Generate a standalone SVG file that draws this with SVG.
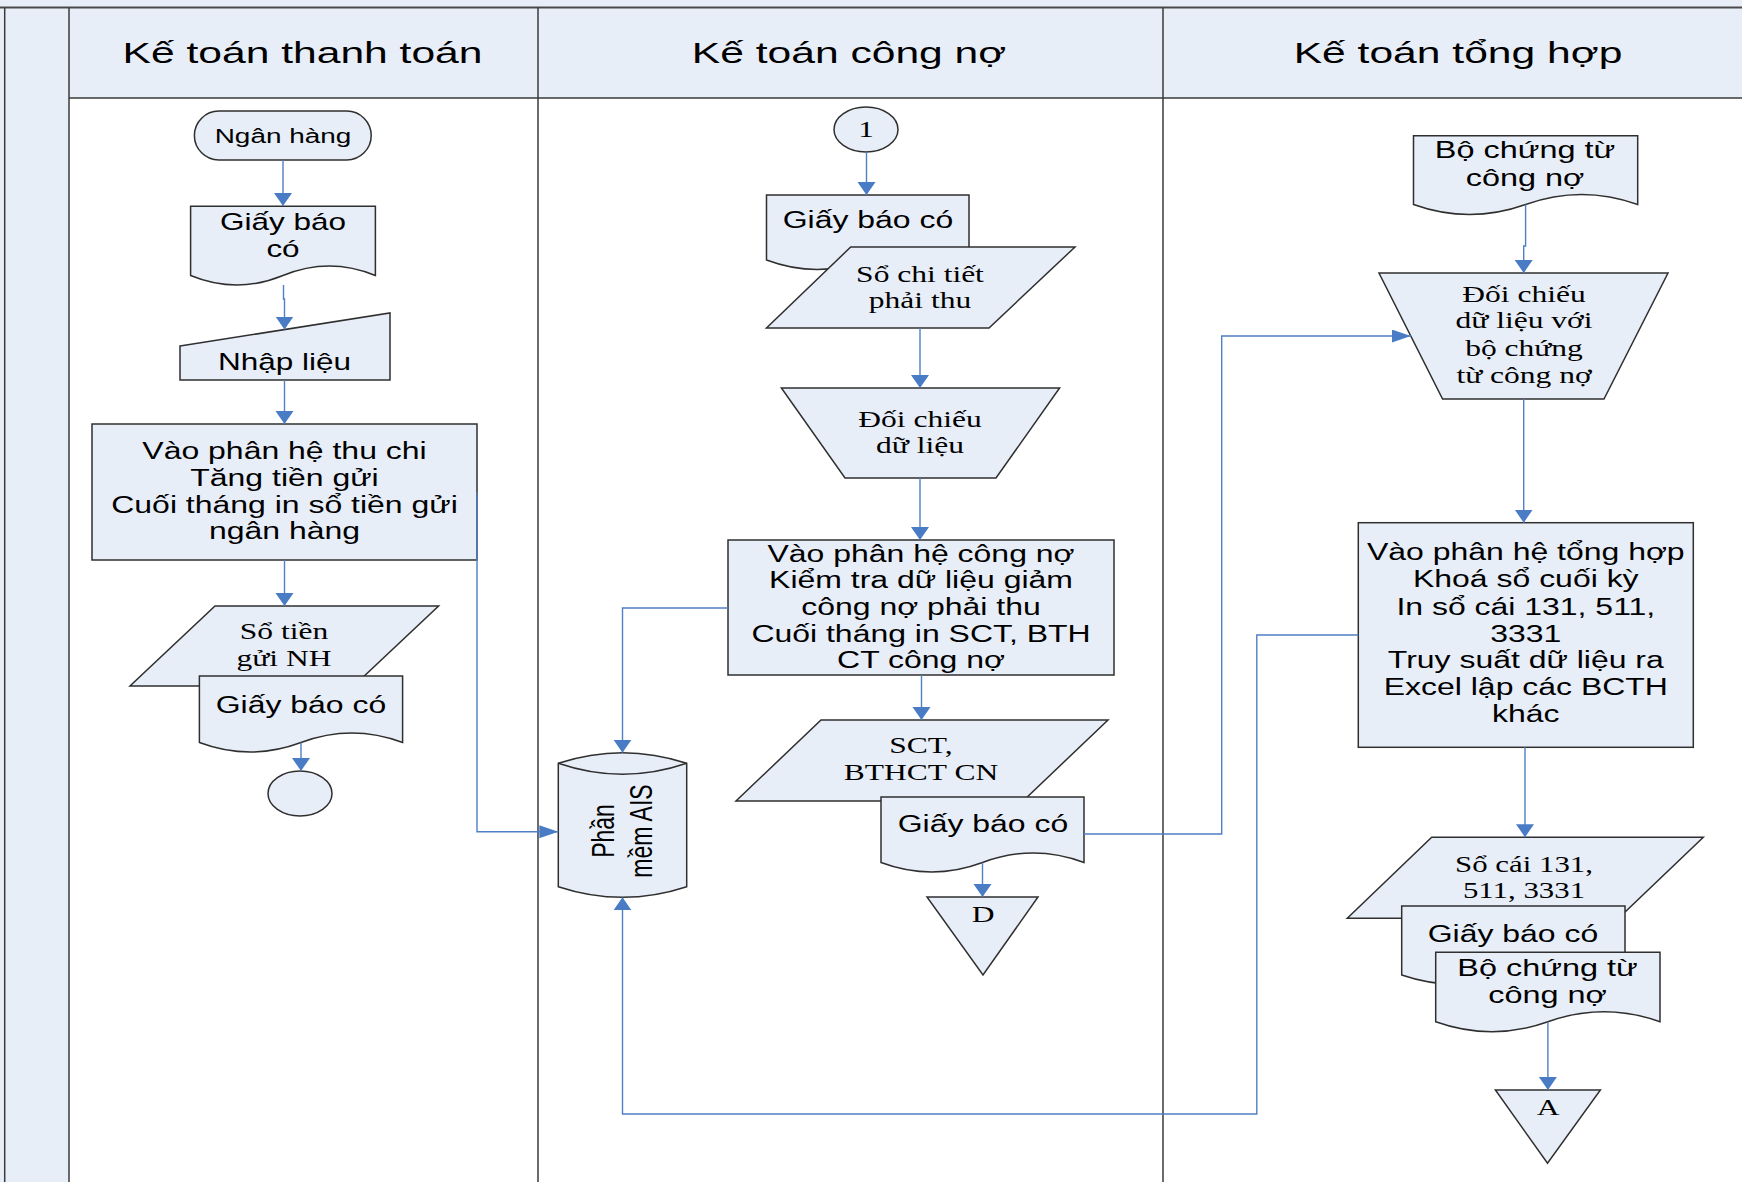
<svg xmlns="http://www.w3.org/2000/svg" width="1742" height="1182" viewBox="0 0 1742 1182">
  <style>
    .bg { fill: #E8EEF8; }
    .frame { fill: none; stroke: #3a3a3a; stroke-width: 1.5; }
    .shape { fill: #E8EEF8; stroke: #2f2f2f; stroke-width: 1.5; stroke-linejoin: miter; }
    .conn { fill: none; stroke: #4F7FC4; stroke-width: 1.4; }
    .t { font-family: "Liberation Sans", Arial, sans-serif; font-size: 23.5px; text-anchor: middle; fill: #000; }
    .s { font-family: "Liberation Serif", "Times New Roman", serif; font-size: 23px; text-anchor: middle; fill: #000; }
    .h { font-size: 30px; }
  </style>
  <defs>
    <!-- arrowheads: the drawing is stretched sideways, so vertical and horizontal heads differ -->
    <marker id="av" markerUnits="userSpaceOnUse" markerWidth="14" markerHeight="19" refX="13" refY="9" orient="auto">
      <path d="M0,0 L13,9 L0,18 Z" fill="#4A7CC6"/>
    </marker>
    <marker id="ah" markerUnits="userSpaceOnUse" markerWidth="20" markerHeight="14" refX="19" refY="6.5" orient="auto">
      <path d="M0,0 L19,6.5 L0,13 Z" fill="#4A7CC6"/>
    </marker>
  </defs>

  <!-- swimlane frame -->
  <g id="lanes">
    <rect x="0" y="0" width="1742" height="1182" fill="#ffffff"/>
    <rect class="bg" x="0" y="0" width="1742" height="98"/>
    <rect class="bg" x="0" y="0" width="69" height="1182"/>
    <line x1="0" y1="7.5" x2="1742" y2="7.5" stroke="#4a4a4a" stroke-width="2.2"/>
    <line class="frame" x1="4.7" y1="7.5" x2="4.7" y2="1182"/>
    <line class="frame" x1="69" y1="7.5" x2="69" y2="1182"/>
    <line class="frame" x1="538" y1="7.5" x2="538" y2="1182"/>
    <line class="frame" x1="1163" y1="7.5" x2="1163" y2="1182"/>
    <line class="frame" x1="69" y1="98" x2="1742" y2="98"/>
    <text class="t h" transform="matrix(1.42 0 0 1 302.5 0)" x="0" y="63">Kế toán thanh toán</text>
    <text class="t h" transform="matrix(1.42 0 0 1 849 0)" x="0" y="63">Kế toán công nợ</text>
    <text class="t h" transform="matrix(1.42 0 0 1 1458 0)" x="0" y="63">Kế toán tổng hợp</text>
  </g>

  <!-- lane 1: Kế toán thanh toán -->
  <g id="ngan-hang">
    <rect class="shape" x="194.4" y="111" width="176.8" height="49" rx="24.5" ry="24.5"/>
    <text class="t" style="font-size:21px" transform="matrix(1.33 0 0 1 283 0)" x="0" y="142.7">Ngân hàng</text>
  </g>
  <g id="giay-bao-co-1">
    <path class="shape" d="M190.6,206.3 H375.4 V275.5 Q329.2,256.5 283,275.5 Q236.8,294.5 190.6,275.5 Z"/>
    <text class="t" transform="matrix(1.34 0 0 1 283 0)"><tspan x="0" y="230">Giấy báo</tspan><tspan x="0" y="257">có</tspan></text>
  </g>
  <g id="nhap-lieu">
    <path class="shape" d="M180,346 L390,313 V380 H180 Z"/>
    <text class="t" transform="matrix(1.34 0 0 1 284.5 0)" x="0" y="370">Nhập liệu</text>
  </g>
  <g id="phan-he-thu-chi">
    <rect class="shape" x="92" y="424" width="385" height="136"/>
    <text class="t" transform="matrix(1.36 0 0 1 284.5 0)"><tspan x="0" y="459">Vào phân hệ thu chi</tspan><tspan x="0" y="486">Tăng tiền gửi</tspan><tspan x="0" y="513">Cuối tháng in sổ tiền gửi</tspan><tspan x="0" y="539">ngân hàng</tspan></text>
  </g>
  <g id="so-tien-gui">
    <path class="shape" d="M215,606 H438.6 L353.6,686 H130 Z"/>
    <text class="s" transform="matrix(1.37 0 0 1 284 0)"><tspan x="0" y="639">Sổ tiền</tspan><tspan x="0" y="666">gửi NH</tspan></text>
  </g>
  <g id="giay-bao-co-2">
    <path class="shape" d="M199.4,676 H402.6 V742.5 Q351.8,723.5 301,742.5 Q250.2,761.5 199.4,742.5 Z"/>
    <text class="t" transform="matrix(1.36 0 0 1 301 0)" x="0" y="713">Giấy báo có</text>
  </g>
  <g id="ket-thuc-1">
    <ellipse class="shape" cx="300" cy="793.5" rx="32" ry="22.5"/>
  </g>

  <!-- lane 2: Kế toán công nợ -->
  <g id="noi-1">
    <ellipse class="shape" cx="866" cy="129.5" rx="32" ry="22.5"/>
    <text class="s" style="font-size:24px" transform="matrix(1.3 0 0 1 866 0)" x="0" y="137">1</text>
  </g>
  <g id="giay-bao-co-3">
    <path class="shape" d="M766.5,195 H969 V260 Q918.4,241 867.8,260 Q817.1,279 766.5,260 Z"/>
    <text class="t" transform="matrix(1.36 0 0 1 868 0)" x="0" y="228">Giấy báo có</text>
  </g>
  <g id="so-chi-tiet">
    <path class="shape" d="M850.7,247 H1075 L989,328 H766.5 Z"/>
    <text class="s" transform="matrix(1.37 0 0 1 920 0)"><tspan x="0" y="282">Sổ chi tiết</tspan><tspan x="0" y="308">phải thu</tspan></text>
  </g>
  <g id="doi-chieu-1">
    <path class="shape" d="M781.4,388 H1059.6 L996,478 H845 Z"/>
    <text class="s" transform="matrix(1.37 0 0 1 920 0)"><tspan x="0" y="427">Đối chiếu</tspan><tspan x="0" y="453">dữ liệu</tspan></text>
  </g>
  <g id="phan-he-cong-no">
    <rect class="shape" x="728" y="540" width="386" height="135"/>
    <text class="t" transform="matrix(1.36 0 0 1 921 0)"><tspan x="0" y="562">Vào phân hệ công nợ</tspan><tspan x="0" y="588">Kiểm tra dữ liệu giảm</tspan><tspan x="0" y="615">công nợ phải thu</tspan><tspan x="0" y="642">Cuối tháng in SCT, BTH</tspan><tspan x="0" y="668">CT công nợ</tspan></text>
  </g>
  <g id="phan-mem-ais">
    <path class="shape" d="M558.3,763.3 Q622.5,742.1 686.7,763.3 V886.7 Q622.5,907.9 558.3,886.7 Z"/>
    <path class="shape" style="fill:none" d="M558.3,763.3 Q622.5,785.3 686.7,763.3"/>
    <text class="t" style="font-size:23px" transform="matrix(0 -1 1.36 0 622.5 831)"><tspan x="0" y="-6.1">Phần</tspan><tspan x="0" y="21.8">mềm AIS</tspan></text>
  </g>
  <g id="so-sct-bthct">
    <path class="shape" d="M821,720 H1108 L1023,801 H736 Z"/>
    <text class="s" transform="matrix(1.37 0 0 1 921 0)"><tspan x="0" y="753">SCT,</tspan><tspan x="0" y="780">BTHCT CN</tspan></text>
  </g>
  <g id="giay-bao-co-4">
    <path class="shape" d="M881,797 H1084 V862.5 Q1033.3,843.5 982.5,862.5 Q931.8,881.5 881,862.5 Z"/>
    <text class="t" transform="matrix(1.36 0 0 1 983 0)" x="0" y="832">Giấy báo có</text>
  </g>
  <g id="luu-tru-d">
    <path class="shape" d="M927,897 H1038 L983,975 Z"/>
    <text class="s" transform="matrix(1.37 0 0 1 983 0)" x="0" y="922">D</text>
  </g>

  <!-- lane 3: Kế toán tổng hợp -->
  <g id="bo-chung-tu-1">
    <path class="shape" d="M1413.5,135.7 H1637.7 V204.5 Q1581.7,184.5 1525.6,204.5 Q1469.5,224.5 1413.5,204.5 Z"/>
    <text class="t" transform="matrix(1.38 0 0 1 1525 0)"><tspan x="0" y="158">Bộ chứng từ</tspan><tspan x="0" y="186">công nợ</tspan></text>
  </g>
  <g id="doi-chieu-2">
    <path class="shape" d="M1379,273 H1668 L1604,399 H1442.6 Z"/>
    <text class="s" transform="matrix(1.37 0 0 1 1524 0)"><tspan x="0" y="302">Đối chiếu</tspan><tspan x="0" y="328">dữ liệu với</tspan><tspan x="0" y="356">bộ chứng</tspan><tspan x="0" y="383">từ công nợ</tspan></text>
  </g>
  <g id="phan-he-tong-hop">
    <rect class="shape" x="1358.3" y="522.7" width="335" height="224.6"/>
    <text class="t" transform="matrix(1.36 0 0 1 1525.8 0)"><tspan x="0" y="560">Vào phân hệ tổng hợp</tspan><tspan x="0" y="587.3">Khoá sổ cuối kỳ</tspan><tspan x="0" y="615">In sổ cái 131, 511,</tspan><tspan x="0" y="641.7">3331</tspan><tspan x="0" y="668.3">Truy suất dữ liệu ra</tspan><tspan x="0" y="695">Excel lập các BCTH</tspan><tspan x="0" y="722.3">khác</tspan></text>
  </g>
  <g id="so-cai">
    <path class="shape" d="M1431.7,837.3 H1703.3 L1618.5,918.3 H1347.3 Z"/>
    <text class="s" transform="matrix(1.34 0 0 1 1524 0)"><tspan x="0" y="871.7">Sổ cái 131,</tspan><tspan x="0" y="898.3">511, 3331</tspan></text>
  </g>
  <g id="giay-bao-co-5">
    <path class="shape" d="M1401.7,906 H1625 V975 Q1569.2,956 1513.4,975 Q1457.5,994 1401.7,975 Z"/>
    <text class="t" transform="matrix(1.36 0 0 1 1513 0)" x="0" y="941.7">Giấy báo có</text>
  </g>
  <g id="bo-chung-tu-2">
    <path class="shape" d="M1435.7,952.3 H1660 V1021.7 Q1603.9,1001.7 1547.9,1021.7 Q1491.8,1041.7 1435.7,1021.7 Z"/>
    <text class="t" transform="matrix(1.38 0 0 1 1547.5 0)"><tspan x="0" y="975.7">Bộ chứng từ</tspan><tspan x="0" y="1003.3">công nợ</tspan></text>
  </g>
  <g id="luu-tru-a">
    <path class="shape" d="M1495.4,1090 H1600.4 L1547.5,1163.3 Z"/>
    <text class="s" transform="matrix(1.37 0 0 1 1548 0)" x="0" y="1115.5">A</text>
  </g>

  <!-- connectors -->
  <g id="connectors" class="conn">
    <path d="M283,160 V206" marker-end="url(#av)"/>
    <path d="M283.5,285 V299 H284.5 V329.6" marker-end="url(#av)"/>
    <path d="M284.5,380 V424" marker-end="url(#av)"/>
    <path d="M284.5,560 V606" marker-end="url(#av)"/>
    <path d="M301,742.5 V771" marker-end="url(#av)"/>
    <path d="M477,492 V831.7 H558.3" marker-end="url(#ah)"/>
    <path d="M866.5,152 V195" marker-end="url(#av)"/>
    <path d="M920,328 V388" marker-end="url(#av)"/>
    <path d="M920,478 V540" marker-end="url(#av)"/>
    <path d="M921.5,675 V720" marker-end="url(#av)"/>
    <path d="M728,608 H622.5 V752.7" marker-end="url(#av)"/>
    <path d="M982.5,862.5 V897" marker-end="url(#av)"/>
    <path d="M1084,834 H1221.7 V336 H1410.8" marker-end="url(#ah)"/>
    <path d="M1358.3,635 H1256.8 V1114 H622.5 V897.3" marker-end="url(#av)"/>
    <path d="M1525.6,204.5 V246 H1523.7 V273" marker-end="url(#av)"/>
    <path d="M1523.7,399 V522.7" marker-end="url(#av)"/>
    <path d="M1525,747.3 V837.3" marker-end="url(#av)"/>
    <path d="M1547.9,1021.7 V1090" marker-end="url(#av)"/>
  </g>
</svg>
